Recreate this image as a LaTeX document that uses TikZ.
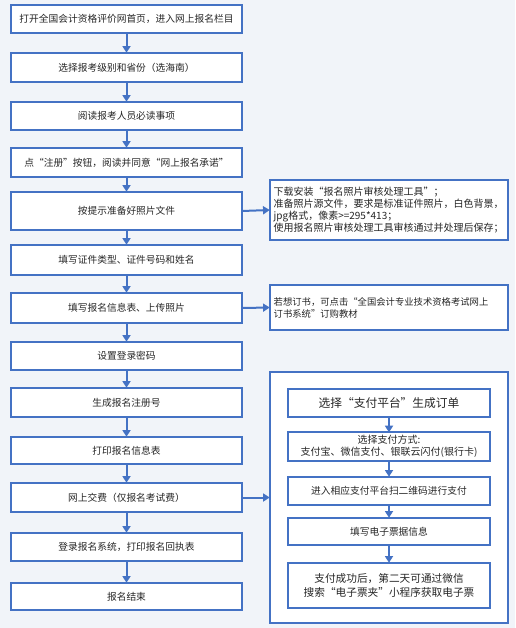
\documentclass[tikz,border=0pt]{standalone}
\usepackage{fontspec}
\setmainfont{Noto Sans CJK SC}
\usetikzlibrary{arrows.meta}
\definecolor{flowblue}{HTML}{4472C4}
\definecolor{bgblue}{HTML}{F1F4F9}
\definecolor{txtgray}{HTML}{262626}

\begin{document}
\begin{tikzpicture}[x=0.75pt,y=-0.75pt,
  stepbox/.style={fill=white,text=txtgray,minimum width=173.25pt,minimum height=21pt,inner sep=2pt,align=center,font=\fontsize{7.3}{9}\selectfont},
  notebox/.style={stepbox,minimum width=178.5pt,text width=173pt,align=left,font=\fontsize{7.5}{9}\selectfont},
  paybox/.style={stepbox,minimum width=151.5pt},
  frame/.style={draw=flowblue,line width=1.5pt},
  flow/.style={draw=flowblue,line width=1.5pt,-{Triangle[length=5pt,width=6pt]}}]
  \fill[bgblue] (0,0) rectangle (515,628);
  \useasboundingbox (0,0) rectangle (515,628);
  % main column
  \foreach \n/\y/\h/\txt in {1/19/21/{打开全国会计资格评价网首页，进入网上报名栏目},2/67.5/21.75/{选择报考级别和省份（选海南）},3/116/21/{阅读报考人员必读事项},4/162.5/21.75/{点“注册”按钮，阅读并同意“网上报名承诺”},5/211/28.5/{按提示准备好照片文件},6/260/22.5/{填写证件类型、证件号码和姓名},7/308/22.5/{填写报名信息表、上传照片},8/356/21/{设置登录密码},9/402.5/21.75/{生成报名注册号},10/450.5/20.25/{打印报名信息表},11/497.5/21.75/{网上交费（仅报名考试费）},12/547/21/{登录报名系统，打印报名回执表},13/596.5/20.25/{报名结束}}{
    \node[stepbox,minimum height=\h pt] (s\n) at (126.5,\y) {\txt};
  }
  \foreach \i in {1,...,12}{\pgfmathtruncatemacro\j{\i+1}\draw[flow] (s\i.south) -- (s\j.north);}
  % side notes
  \node[notebox,minimum height=45pt] (photo) at (389,210) {下载安装“报名照片审核处理工具”；\\准备照片源文件，要求是标准证件照片，白色背景，\\jpg格式，像素>=295*413；\\使用报名照片审核处理工具审核通过并处理后保存；};
  \node[notebox,minimum height=33.75pt,font=\fontsize{7}{9}\selectfont] (book) at (389,307.5) {若想订书，可点击“全国会计专业技术资格考试网上\\订书系统”订购教材};
  \node[stepbox,minimum width=178.5pt,minimum height=188.25pt] (pay) at (389,497.5) {};
  % payment steps
  \node[paybox,minimum height=21pt,font=\fontsize{8.8}{10}\selectfont] (p1) at (389,403) {选择“支付平台”生成订单};
  \node[paybox,minimum height=20.25pt,font=\fontsize{7.5}{9}\selectfont] (p2) at (389,446.5) {选择支付方式:\\支付宝、微信支付、银联云闪付(银行卡)};
  \node[paybox,minimum height=21pt] (p3) at (389,491) {进入相应支付平台扫二维码进行支付};
  \node[paybox,minimum height=20.25pt] (p4) at (389,531.5) {填写电子票据信息};
  \node[paybox,minimum height=33.75pt,font=\fontsize{8}{10}\selectfont] (p5) at (389,585.5) {支付成功后，第二天可通过微信\\搜索“电子票夹”小程序获取电子票};
  \foreach \i/\j in {1/2,2/3,3/4,4/5}{\draw[flow] (p\i.south) -- (p\j.north);}
  % frames drawn over the boxes
  \foreach \b in {s1,s2,s3,s4,s5,s6,s7,s8,s9,s10,s11,s12,s13,photo,book,pay,p1,p2,p3,p4,p5}{
    \draw[frame] (\b.north west) rectangle (\b.south east);
  }
  \draw[flow] (s5.east) -- (photo.west);
  \draw[flow] (s7.east) -- (book.west);
  \draw[flow] (s11.east) -- (pay.west);
\end{tikzpicture}
\end{document}
